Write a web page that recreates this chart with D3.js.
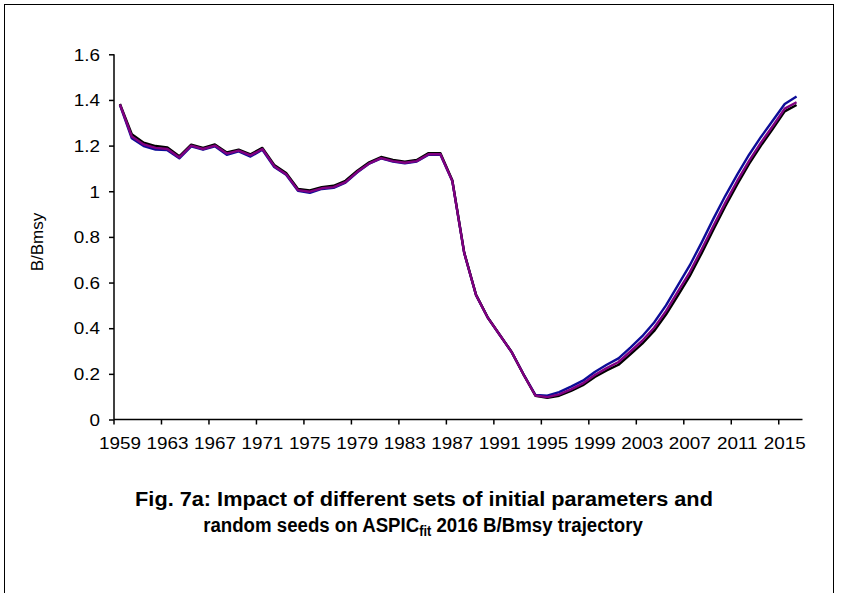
<!DOCTYPE html>
<html><head><meta charset="utf-8">
<script src="https://cdn.jsdelivr.net/npm/d3@7"></script>
<style>html,body{margin:0;padding:0;background:#fff;} svg{display:block;}</style>
</head><body>
<svg id="c" width="841" height="593"></svg>
<script>
const years = d3.range(1959, 2017);
const xTickYears = years.filter((y, i) => i % 4 === 0);
const yTicks = [0, 0.2, 0.4, 0.6, 0.8, 1, 1.2, 1.4, 1.6];

const seriesBlue = [1.378,1.232,1.198,1.183,1.180,1.144,1.197,1.182,1.197,1.160,1.175,1.152,1.182,1.106,1.072,1.002,0.993,1.010,1.015,1.038,1.083,1.121,1.144,1.130,1.122,1.130,1.160,1.160,1.045,0.730,0.545,0.445,0.370,0.295,0.198,0.108,0.104,0.120,0.144,0.170,0.208,0.240,0.268,0.315,0.365,0.425,0.500,0.588,0.675,0.775,0.880,0.980,1.073,1.160,1.238,1.310,1.382,1.415];
const seriesBlack = [1.382,1.250,1.213,1.198,1.192,1.153,1.204,1.190,1.205,1.170,1.182,1.162,1.190,1.115,1.080,1.010,1.004,1.018,1.024,1.046,1.090,1.127,1.150,1.137,1.130,1.137,1.167,1.167,1.048,0.732,0.546,0.446,0.371,0.296,0.197,0.104,0.095,0.104,0.125,0.150,0.186,0.215,0.240,0.285,0.332,0.388,0.460,0.543,0.628,0.728,0.833,0.935,1.030,1.120,1.200,1.274,1.350,1.378];
const seriesPurple = [1.380,1.240,1.205,1.190,1.185,1.148,1.200,1.185,1.200,1.165,1.178,1.157,1.185,1.110,1.075,1.005,0.998,1.013,1.018,1.040,1.085,1.122,1.145,1.132,1.125,1.132,1.162,1.162,1.045,0.730,0.545,0.445,0.370,0.295,0.197,0.105,0.098,0.110,0.132,0.158,0.195,0.225,0.252,0.298,0.345,0.402,0.475,0.560,0.645,0.745,0.849,0.950,1.045,1.133,1.213,1.286,1.362,1.390];

const seriesList = [
  {name: "blue", values: seriesBlue, color: "#0c0c98"},
  {name: "black", values: seriesBlack, color: "#000000"},
  {name: "purple", values: seriesPurple, color: "#800080"}
];

const svg = d3.select("#c");
const FONT = "'Liberation Sans', Arial, sans-serif";

// outer frame
svg.append("rect").attr("x", 4.5).attr("y", 4.5).attr("width", 829).attr("height", 700)
  .attr("fill", "none").attr("stroke", "#000").attr("stroke-width", 1);

const x = d3.scaleBand().domain(years).range([114, 802.5]).padding(0);
const y = d3.scaleLinear().domain([0, 1.6]).range([419.5, 54.3]);

// y axis
const yAxis = d3.axisLeft(y).tickValues(yTicks).tickSize(5).tickPadding(9)
  .tickFormat(d => d3.format("")(+d.toFixed(1)));
const gy = svg.append("g").attr("transform", "translate(114,0)").call(yAxis);
gy.select(".domain").attr("d", `M0,${y(1.6)}V${y(0)}`);
gy.selectAll("path,line").attr("stroke", "#000").attr("stroke-width", 1.5);
gy.selectAll("text").attr("font-family", FONT).attr("font-size", 16).attr("fill", "#000")
  .attr("dy", "0.36em")
  .each(function(){ const t = d3.select(this); const xx = +t.attr("x"); t.attr("transform", `translate(${xx},0) scale(1.18,1)`).attr("x", 0); });

// x axis
const xAxis = d3.axisBottom(x).tickValues(xTickYears).tickSize(0).tickPadding(0).tickFormat(d => d);
const gx = svg.append("g").attr("transform", `translate(0,${y(0)})`).call(xAxis);
gx.select(".domain").attr("d", `M114,0H802.5`).attr("stroke", "#000").attr("stroke-width", 1.5);
gx.selectAll(".tick line").remove();
gx.selectAll(".tick").each(function(d){
  const g = d3.select(this);
  const bx = x(d) - (x(d) + x.bandwidth()/2);
  g.append("line").attr("x1", bx).attr("x2", bx).attr("y1", 0).attr("y2", 5)
    .attr("stroke", "#000").attr("stroke-width", 1.5);
});
gx.selectAll("text").attr("font-family", FONT).attr("font-size", 16).attr("fill", "#000")
  .attr("y", 0).attr("dy", 0)
  .attr("transform", "translate(0,29) scale(1.18,1)");

// lines
const line = d3.line().x((d, i) => x(years[i]) + x.bandwidth()/2).y(d => y(d));
svg.append("g").selectAll("path").data(seriesList).join("path")
  .attr("d", s => line(s.values))
  .attr("fill", "none").attr("stroke", s => s.color).attr("stroke-width", 2.4)
  .attr("stroke-linejoin", "round").attr("stroke-linecap", "butt");

// y label
svg.append("text").attr("transform", "translate(43,242) rotate(-90)")
  .attr("text-anchor", "middle").attr("font-family", FONT).attr("font-size", 17).attr("fill", "#000")
  .text("B/Bmsy");

// caption
function fitText(sel, cx, target) {
  const w = sel.node().getComputedTextLength();
  const sx = target / w;
  sel.attr("transform", `translate(${cx},0) scale(${sx},1)`);
}
const cap1 = svg.append("text").attr("x", 0).attr("y", 506).attr("text-anchor", "middle")
  .attr("font-family", FONT).attr("font-weight", "bold").attr("font-size", 20.5).attr("fill", "#000")
  .text("Fig. 7a: Impact of different sets of initial parameters and");
fitText(cap1, 424, 578);
const cap2 = svg.append("text").attr("x", 0).attr("y", 532).attr("text-anchor", "middle")
  .attr("font-family", FONT).attr("font-weight", "bold").attr("font-size", 20.5).attr("fill", "#000");
cap2.append("tspan").text("random seeds on ASPIC");
cap2.append("tspan").attr("font-size", 14).attr("dy", 4).text("fit");
cap2.append("tspan").attr("dy", -4).text(" 2016 B/Bmsy trajectory");
fitText(cap2, 423, 440);
</script>
</body></html>
